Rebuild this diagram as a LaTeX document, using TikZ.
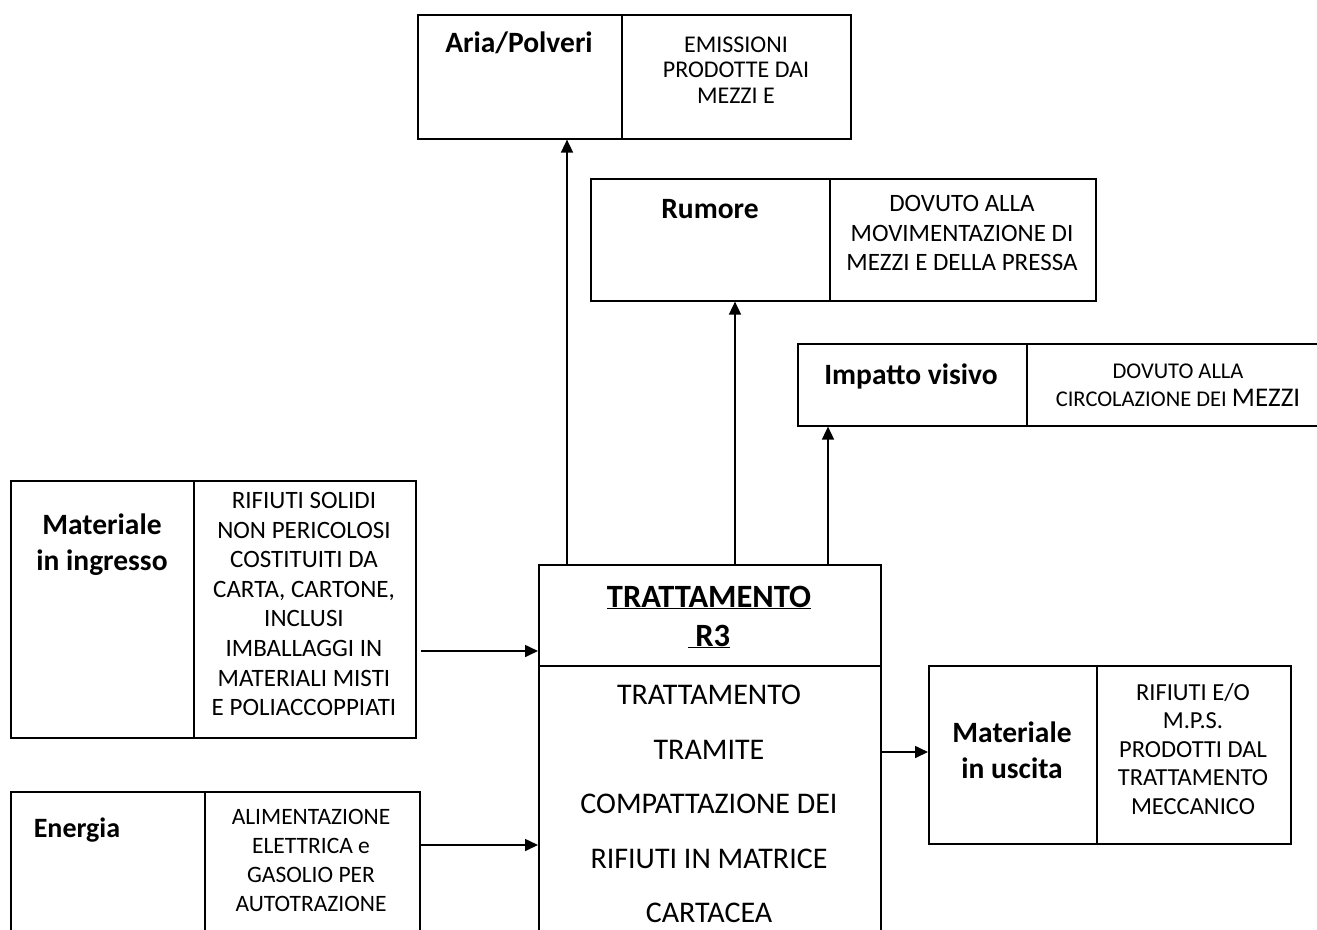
\documentclass[tikz,border=0pt]{standalone}
\usepackage{fontspec}
\setmainfont{Carlito}
\usetikzlibrary{arrows.meta}

\begin{document}
\begin{tikzpicture}[x=1pt,y=-1pt,
  frame/.style={draw, line width=1.6pt, anchor=north west, inner sep=0pt},
  lbl/.style={font=\fontsize{29.5}{36}\selectfont\bfseries, align=center, inner sep=0pt},
  head/.style={font=\fontsize{32.5}{39}\selectfont\bfseries, align=center, inner sep=0pt},
  txt/.style={align=center, inner sep=0pt},
  body/.style={font=\fontsize{30}{54.5}\selectfont, align=center, inner sep=0pt},
  divider/.style={line width=1.6pt},
  flow/.style={line width=1.6pt, -{Triangle[length=13pt,width=12pt]}}
]
\useasboundingbox (0,0) rectangle (1317,929);
\clip (0,0) rectangle (1317,929);

% outer boxes
\node[frame, minimum width=433, minimum height=124] (aria) at (417,14) {};
\node[frame, minimum width=505, minimum height=122] (rum) at (590,178) {};
\node[frame, minimum width=523, minimum height=82] (imp) at (797,343) {};
\node[frame, minimum width=405, minimum height=257] (ing) at (10,480) {};
\node[frame, minimum width=409, minimum height=170] (ene) at (10,791) {};
\node[frame, minimum width=342, minimum height=400] (tr) at (538,564) {};
\node[frame, minimum width=362, minimum height=178] (usc) at (928,665) {};

% cell dividers
\draw[divider] (622,14) -- (622,138);
\draw[divider] (830,178) -- (830,300);
\draw[divider] (1027,343) -- (1027,425);
\draw[divider] (194,480) -- (194,737);
\draw[divider] (205,791) -- (205,961);
\draw[divider] (538,666) -- (880,666);
\draw[divider] (1097,665) -- (1097,843);

% connectors
\draw[flow] (tr.north -| 567,0) -- (aria.south -| 567,0);
\draw[flow] (tr.north -| 735,0) -- (rum.south -| 735,0);
\draw[flow] (tr.north -| 828,0) -- (imp.south -| 828,0);
\coordinate (inA) at (421,651);
\draw[flow] (inA) -- (tr.west |- inA);
\draw[flow] (ene.east |- 0,845) -- (tr.west |- 0,845);
\draw[flow] (tr.east |- 0,752) -- (usc.west |- 0,752);

% texts
\node[lbl] (ariaL) at (519,43) {Aria/Polveri};
\node[txt, font=\fontsize{24}{25.7}\selectfont] (ariaR) at (736,70)
  {EMISSIONI\\PRODOTTE DAI\\MEZZI E};
\node[lbl] (rumL) at (710,209) {Rumore};
\node[txt, font=\fontsize{25}{29.5}\selectfont] (rumR) at (962,233)
  {DOVUTO ALLA\\MOVIMENTAZIONE DI\\MEZZI E DELLA PRESSA};
\node[lbl] (impL) at (911,376) {Impatto visivo};
\node[txt, font=\fontsize{22.5}{28}\selectfont] (impR) at (1178,385)
  {DOVUTO ALLA\\CIRCOLAZIONE DEI {\fontsize{27}{28}\selectfont MEZZI}};
\node[lbl] (ingL) at (102,545) {Materiale\\in ingresso};
\node[txt, font=\fontsize{25}{29.6}\selectfont] (ingR) at (304,604)
  {RIFIUTI SOLIDI\\NON PERICOLOSI\\COSTITUITI DA\\CARTA, CARTONE,\\INCLUSI\\IMBALLAGGI IN\\MATERIALI MISTI\\E POLIACCOPPIATI};
\node[lbl, font=\fontsize{28}{34}\selectfont\bfseries] (eneL) at (77,830) {Energia};
\node[txt, font=\fontsize{23.5}{29}\selectfont] (eneR) at (311,860)
  {ALIMENTAZIONE\\ELETTRICA e\\GASOLIO PER\\AUTOTRAZIONE};
\node[head] (trH) at (709,617) {\underline{TRATTAMENTO}\\\underline{\ R3}};
\node[body] (trB) at (709,804)
  {TRATTAMENTO\\TRAMITE\\COMPATTAZIONE DEI\\RIFIUTI IN MATRICE\\CARTACEA};
\node[lbl] (uscL) at (1012,750) {Materiale\\in uscita};
\node[txt, font=\fontsize{24.5}{28.5}\selectfont] (uscR) at (1193,749)
  {RIFIUTI E/O\\M.P.S.\\PRODOTTI DAL\\TRATTAMENTO\\MECCANICO};
\end{tikzpicture}
\end{document}
